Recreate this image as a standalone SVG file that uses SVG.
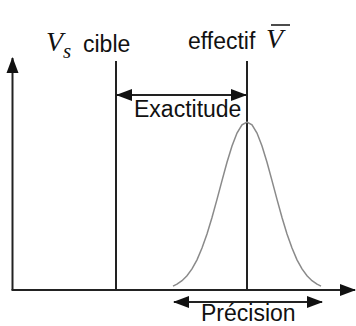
<svg xmlns="http://www.w3.org/2000/svg" width="356" height="326" viewBox="0 0 356 326">
<style>
.ln{stroke:#222;stroke-width:2;fill:none}
.t{font-family:"Liberation Sans",Arial,sans-serif;font-size:23px;fill:#111}
.m{font-family:"Liberation Serif","Times New Roman",serif;font-style:italic;fill:#111}
.curve{stroke:#8a8a8a;stroke-width:1.5;fill:none}
</style>
<defs>
<marker id="ah" markerUnits="userSpaceOnUse" markerWidth="16" markerHeight="14" viewBox="0 0 16 14" refX="15" refY="7" orient="auto-start-reverse">
<path d="M0,1 L16,7 L0,13 Z" fill="#111"/>
</marker>
</defs>
<g id="axes">
<path class="ln" d="M12.5,290 L12.5,58" marker-end="url(#ah)"/>
<path class="ln" d="M11.5,290 L355,290" marker-end="url(#ah)"/>
</g>
<g id="cible">
<line class="ln" x1="116" y1="61" x2="116" y2="290"/>
<text class="m" x="46" y="51" font-size="28">V</text>
<text class="m" x="63" y="58" font-size="21">s</text>
<text class="t" x="83" y="52">cible</text>
</g>
<g id="effectif">
<line class="ln" x1="247" y1="61" x2="247" y2="290"/>
<text class="t" x="188" y="49">effectif</text>
<text class="m" x="266" y="48" font-size="28">V</text>
<line x1="271" y1="25" x2="290" y2="25" stroke="#111" stroke-width="1.5"/>
</g>
<g id="distribution">
<polyline class="curve" points="173,286.1 177,284.2 182,280.7 187,275.8 192,268.9 197,259.8 202,248.1 207,233.9 212,217.5 217,199.4 222,180.6 227,162.3 232,146 237,133.1 242,124.9 247,122 252,124.9 257,133.1 262,146 267,162.3 272,180.6 277,199.4 282,217.5 287,233.9 292,248.1 297,259.8 302,268.9 307,275.8 312,280.7 317,284.2 321,286.1"/>
</g>
<g id="connectors">
<path class="ln" d="M117,95 L246,95" marker-start="url(#ah)" marker-end="url(#ah)"/>
<path class="ln" d="M174,302 L322,302" marker-start="url(#ah)" marker-end="url(#ah)"/>
</g>
<g id="labels">
<text class="t" x="134" y="117" font-size="22">Exactitude</text>
<text class="t" x="201" y="321" font-size="21.5">Précision</text>
</g>
</svg>
